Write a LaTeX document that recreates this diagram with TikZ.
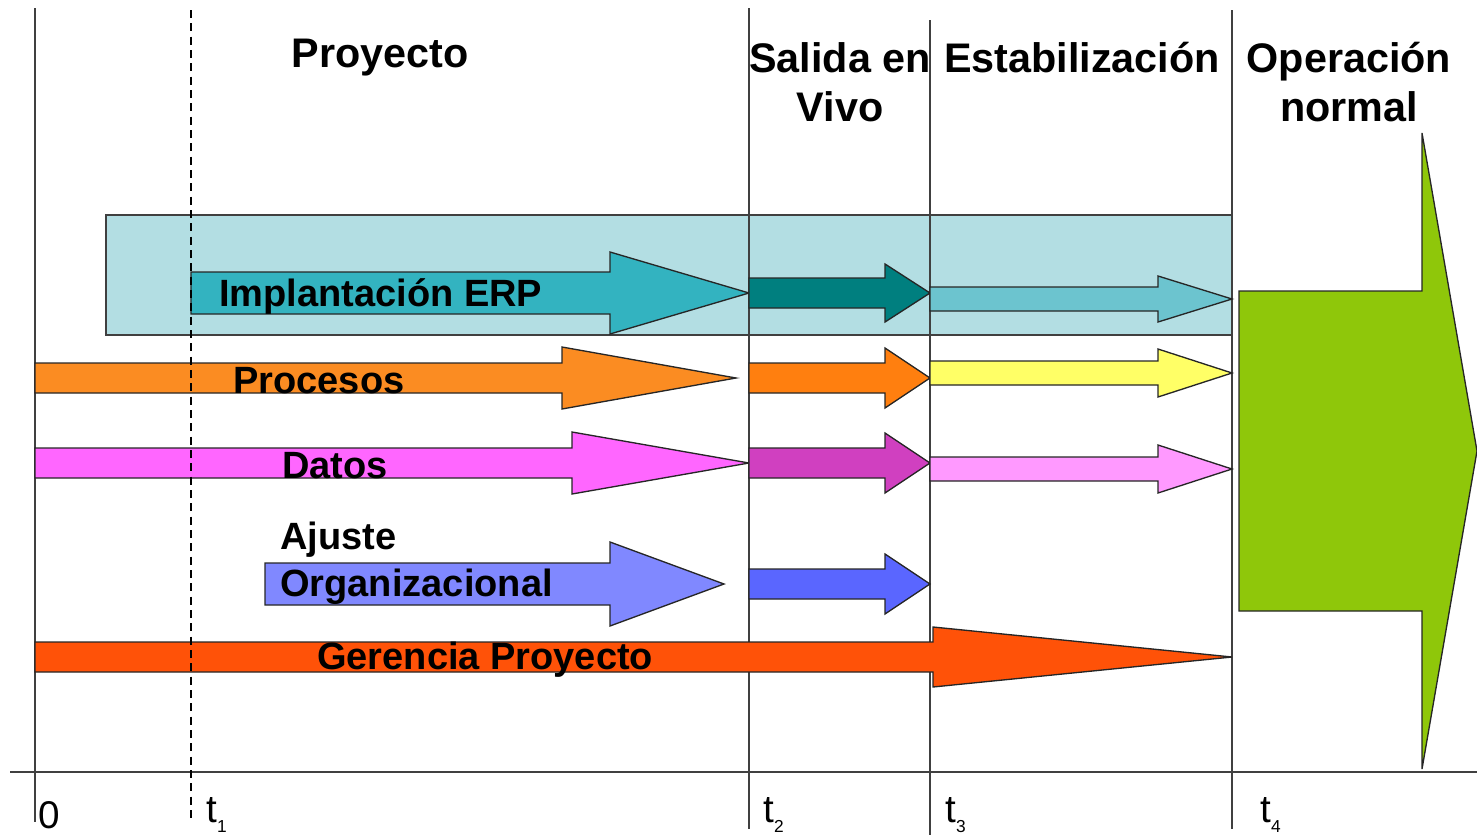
\documentclass[tikz,border=0pt]{standalone}
\usepackage{fontspec}
\setmainfont{Liberation Sans}
\definecolor{boxfill}{HTML}{B3DEE3}
\definecolor{cImpl}{HTML}{33B3C0}
\definecolor{cTealD}{HTML}{007F7F}
\definecolor{cTealL}{HTML}{6CC4CF}
\definecolor{cProc}{HTML}{FB8C22}
\definecolor{cOrange}{HTML}{FF7F0F}
\definecolor{cYellow}{HTML}{FFFF66}
\definecolor{cDatos}{HTML}{FF66FF}
\definecolor{cPurple}{HTML}{D040C0}
\definecolor{cPink}{HTML}{FF99FF}
\definecolor{cLav}{HTML}{8088FF}
\definecolor{cBlue}{HTML}{5A66FF}
\definecolor{cGer}{HTML}{FF5208}
\definecolor{cGreen}{HTML}{8FC70A}
\newcommand\BArrow[7]{%
  \filldraw[arrowline, fill=#7] (#1,{#4-#5}) -- (#2,{#4-#5}) -- (#2,{#4-#6}) -- (#3,#4)
    -- (#2,{#4+#6}) -- (#2,{#4+#5}) -- (#1,{#4+#5}) -- cycle;}
\newcommand\tsub[1]{t\raisebox{-7pt}{\fontsize{13}{13}\selectfont #1}}
\begin{document}
\begin{tikzpicture}[x=0.75pt,y=-0.75pt,
  arrowline/.style={draw=black!85, line width=1pt, line join=miter},
  vline/.style={draw=black!75, line width=1pt},
  title/.style={font=\fontsize{31}{37}\selectfont\bfseries, align=center, inner sep=0pt},
  lbl/.style={font=\fontsize{28.5}{32}\selectfont\bfseries, anchor=west, inner sep=0pt},
  tick/.style={font=\fontsize{29}{32}\selectfont, anchor=west, inner sep=0pt}]
\useasboundingbox (0,0) rectangle (1477,835);
% background box
\filldraw[fill=boxfill, draw=black!75, line width=1pt] (106,215) rectangle (1232,335);
% vertical lines and axis
\draw[vline] (35,8) -- (35,822);
\draw[vline] (749,8) -- (749,829);
\draw[vline] (930,20) -- (930,835);
\draw[vline] (1232,10) -- (1232,829);
\draw[vline] (10,772) -- (1477,772);
% ERP row
\BArrow{191}{610}{749}{293}{21}{41}{cImpl}
\BArrow{749}{885}{930}{293}{15}{29}{cTealD}
\BArrow{930}{1158}{1232}{299}{12}{23}{cTealL}
% Procesos row
\BArrow{35}{562}{736}{378}{15}{31}{cProc}
\BArrow{749}{885}{930}{378}{15}{30}{cOrange}
\BArrow{930}{1158}{1232}{373}{12}{24}{cYellow}
% Datos row
\BArrow{35}{572}{749}{463}{15}{31}{cDatos}
\BArrow{749}{885}{930}{463}{15}{30}{cPurple}
\BArrow{930}{1158}{1232}{469}{12}{24}{cPink}
% Ajuste row
\BArrow{265}{610}{724}{584}{21}{42}{cLav}
\BArrow{749}{885}{930}{584}{15}{30}{cBlue}
% Gerencia row
\BArrow{35}{933}{1232}{657}{15}{30}{cGer}
% Green big arrow
\BArrow{1239}{1422}{1477}{451}{160}{318}{cGreen}
% dashed line on top
\draw[draw=black, line width=1pt, dash pattern=on 6pt off 4pt] (191,10) -- (191,822);
% titles
\node[title] (tProy) at (380,58) {Proyecto};
\node[title] (tSal) at (840,82) {Salida en\\Vivo};
\node[title] (tEst) at (1082,58) {Estabilización};
\node[title] (tOp) at (1349,82) {Operación\\normal};
% labels
\node[lbl] (lImpl) at (219,297) {Implantación ERP};
\node[lbl] (lProc) at (233,381) {Procesos};
\node[lbl] (lDat) at (282,466) {Datos};
\node[lbl] (lAj) at (280,540) {Ajuste};
\node[lbl] (lOrg) at (280,587) {Organizacional};
\node[lbl] (lGer) at (317,660) {Gerencia Proyecto};
% ticks
\node[tick] (k0) at (38,815) {0};
\node[tick] (k1) at (206,815) {\tsub{1}};
\node[tick] (k2) at (763,815) {\tsub{2}};
\node[tick] (k3) at (945,815) {\tsub{3}};
\node[tick] (k4) at (1260,815) {\tsub{4}};
\end{tikzpicture}
\end{document}
